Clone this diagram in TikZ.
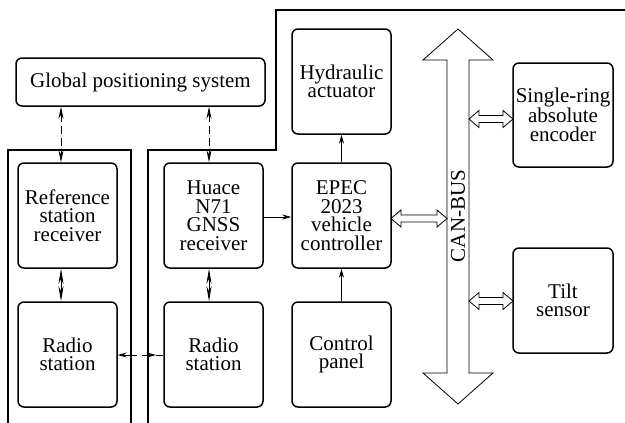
\documentclass[tikz,border=0pt]{standalone}
\usepackage{fontspec}
\newfontfamily\tnr{Liberation Serif}
\usetikzlibrary{arrows.meta}
\newcommand\hollowdbl[3]{%
  \pgfmathsetmacro\hlen{#2-#1-20}%
  \draw[line width=0.8pt] (#1,#3) -- ++(10,-8.5) -- ++(0,5) -- ++(\hlen,0) -- ++(0,-5) -- ++(10,8.5)
    -- ++(-10,8.5) -- ++(0,-5) -- ++(-\hlen,0) -- ++(0,5) -- cycle;}
\begin{document}
\begin{tikzpicture}[x=1pt,y=-1pt,
  txt/.style={font=\tnr\fontsize{21}{18.5}\selectfont},
  box/.style={draw,line width=1.5pt,rounded corners=6pt,align=center,inner sep=0pt,txt},
  sbox/.style={box,minimum width=99pt,minimum height=105pt},
  encl/.style={line width=1.4pt},
  conn/.style={line width=0.9pt},
  tip/.style={-{Stealth[length=9pt,width=5pt]}},
  dtip/.style={{Stealth[length=12pt,width=5pt]}-{Stealth[length=12pt,width=5pt]}},
]
\useasboundingbox (0,0) rectangle (625,423);
% enclosures
\draw[encl] (8,423) -- (8,150) -- (131,150) -- (131,423);
\draw[encl] (148,423) -- (148,150) -- (276,150) -- (276,10) -- (625,10);
% boxes
\node[box,minimum width=249pt,minimum height=48pt] (gps) at (140.5,82) {Global positioning system};
\node[sbox] (ref) at (67.5,215.5) {Reference\\station\\receiver};
\node[sbox] (rl) at (67.5,354.5) {Radio\\station};
\node[sbox] (hua) at (213.5,215.5) {Huace\\N71\\GNSS\\receiver};
\node[sbox] (rr) at (213.5,354.5) {Radio\\station};
\node[sbox] (hyd) at (341.5,81.5) {Hydraulic\\actuator};
\node[sbox] (epec) at (341.5,215.5) {EPEC\\2023\\vehicle\\controller};
\node[sbox] (cp) at (341.5,354.5) {Control\\panel};
\node[box,minimum width=100pt,minimum height=104pt] (enc) at (563,115) {Single-ring\\absolute\\encoder};
\node[box,minimum width=100pt,minimum height=105pt] (tilt) at (563,300.5) {Tilt\\sensor};
% CAN-BUS
\draw[line width=0.8pt] (458,29) -- (493,60) -- (469,60) -- (469,373) -- (493,373) -- (458,404)
  -- (423,373) -- (447,373) -- (447,60) -- (423,60) -- cycle;
\node[rotate=90,inner sep=0pt,txt] (bus) at (458,216) {CAN-BUS};
\hollowdbl{391}{447}{218.5}
\hollowdbl{469}{513}{119}
\hollowdbl{469}{513}{301}
% GPS links
\draw[conn,dashed,dash pattern=on 8pt off 4pt,dtip] ([xshift=-6.5pt]ref.north |- gps.south) -- ([xshift=-6.5pt]ref.north);
\draw[conn,dashed,dash pattern=on 8pt off 4pt,dtip] ([xshift=-4.5pt]hua.north |- gps.south) -- ([xshift=-4.5pt]hua.north);
% receiver-radio
\draw[conn,{Stealth[length=15pt,width=5pt]}-{Stealth[length=15pt,width=5pt]}] ([xshift=-6.5pt]ref.south) -- ([xshift=-6.5pt]rl.north);
\draw[conn,{Stealth[length=15pt,width=5pt]}-{Stealth[length=15pt,width=5pt]}] ([xshift=-4.5pt]hua.south) -- ([xshift=-4.5pt]rr.north);
% radio-radio
\coordinate (ra) at (137,355);
\coordinate (rb) at (142,355);
\coordinate (rc) at (156,355);
\draw[conn,tip] (ra) -- (rl.east |- ra);
\draw[conn,tip] (rb) -- (rc);
\draw[conn] (rc) -- (rr.west |- rc);
% controller links
\draw[conn,tip] (hua.east |- 0,217) -- (epec.west |- 0,217);
\draw[conn,tip] (epec.north) -- (hyd.south);
\draw[conn,tip] (cp.north) -- (epec.south);
\end{tikzpicture}
\end{document}
